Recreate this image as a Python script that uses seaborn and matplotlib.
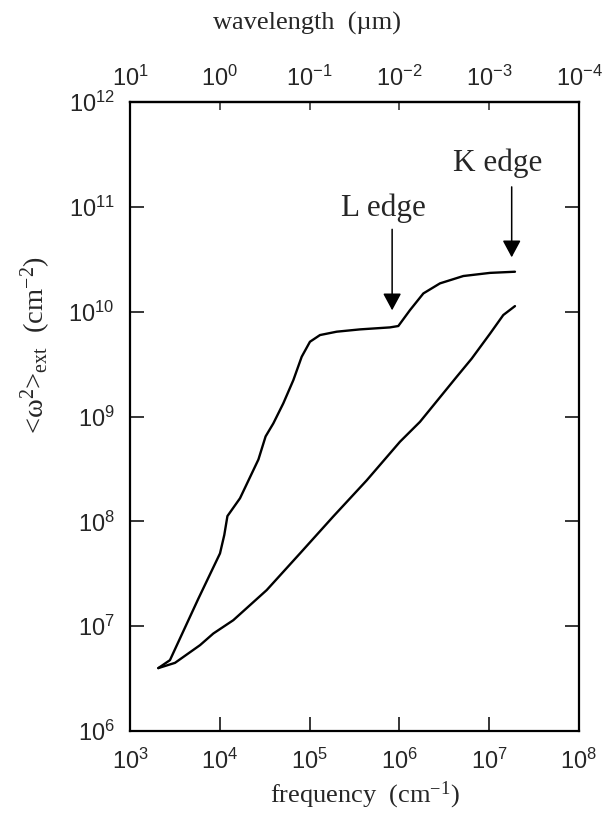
import numpy as np
import pandas as pd
import matplotlib
matplotlib.use("Agg")
import matplotlib.pyplot as plt
from matplotlib.ticker import LogLocator, NullLocator, LogFormatterSciNotation
import seaborn as sns

# Extinction-weighted mean squared frequency vs. frequency (cm^-1)
upper_freq = [2065, 2786, 5754, 1.005e4, 1.122e4, 1.216e4, 1.679e4, 2.692e4,
              3.236e4, 3.945e4, 5.093e4, 6.592e4, 8.166e4, 1.009e5, 1.306e5,
              2.004e5, 3.639e5, 7.852e5, 9.727e5, 1.312e6, 1.849e6, 2.831e6,
              5.152e6, 1.021e7, 1.936e7]
upper_val = [3.981e6, 4.742e6, 1.820e7, 4.943e7, 7.413e7, 1.122e8, 1.660e8, 3.890e8,
             6.457e8, 8.590e8, 1.334e9, 2.223e9, 3.715e9, 5.164e9, 5.984e9,
             6.442e9, 6.776e9, 7.079e9, 7.295e9, 1.035e10, 1.493e10, 1.862e10,
             2.188e10, 2.344e10, 2.404e10]

lower_freq = [2065, 3170, 6026, 8472, 1.413e4, 3.327e4, 7.816e4, 1.837e5,
              4.315e5, 1.014e6, 1.694e6, 4.345e6, 6.383e6, 1.021e7, 1.435e7, 1.936e7]
lower_val = [3.981e6, 4.467e6, 6.592e6, 8.511e6, 1.140e7, 2.208e7, 4.943e7, 1.114e8,
             2.455e8, 5.741e8, 8.892e8, 2.393e9, 3.565e9, 6.166e9, 9.290e9, 1.130e10]

edge_labels = ["L edge", "K edge"]
edge_freq = [8.3e5, 1.78e7]          # arrow positions
edge_tip = [1.03e10, 3.3e10]
edge_tail = [6.1e10, 1.55e11]
edge_text_pos = [(6.56e5, 9.75e10), (1.25e7, 2.62e11)]

sns.set_style("ticks")
plt.rcParams["font.family"] = ["Liberation Serif", "DejaVu Serif"]
plt.rcParams["mathtext.fontset"] = "custom"
plt.rcParams["mathtext.rm"] = "Liberation Serif"
plt.rcParams["mathtext.it"] = "Liberation Serif:italic"
plt.rcParams["mathtext.bf"] = "Liberation Serif:bold"

df = pd.concat([
    pd.DataFrame({"freq": upper_freq, "val": upper_val, "curve": "upper"}),
    pd.DataFrame({"freq": lower_freq, "val": lower_val, "curve": "lower"}),
])

fig = plt.figure(figsize=(6.13, 8.21), dpi=100)
ax = fig.add_axes([130 / 613, 1 - 731 / 821, 449 / 613, 629 / 821])

sns.lineplot(data=df, x="freq", y="val", hue="curve", units="curve",
             estimator=None, sort=False, palette={"upper": "black", "lower": "black"},
             linewidth=1.7, legend=False, ax=ax)
for ln in ax.lines:
    ln.set_solid_joinstyle("round")
    ln.set_solid_capstyle("round")

ax.set_xscale("log")
ax.set_yscale("log")
ax.set_xlim(1e3, 1e8)
ax.set_ylim(1e6, 1e12)
ax.set_xlabel("")
ax.set_ylabel("")

for s in ax.spines.values():
    s.set_linewidth(1.6)
    s.set_color("black")
    s.set_visible(True)

ax.xaxis.set_major_locator(LogLocator(base=10, numticks=20))
ax.yaxis.set_major_locator(LogLocator(base=10, numticks=20))
ax.xaxis.set_minor_locator(NullLocator())
ax.yaxis.set_minor_locator(NullLocator())
ax.xaxis.set_major_formatter(LogFormatterSciNotation())
ax.yaxis.set_major_formatter(LogFormatterSciNotation())
ax.tick_params(axis="both", which="major", direction="in", length=10, width=1.1,
               color="black", labelsize=17)
ax.tick_params(axis="y", right=True, left=True, pad=11)
ax.tick_params(axis="x", top=False, bottom=True, pad=13)
for lab in ax.get_xticklabels() + ax.get_yticklabels():
    lab.set_family("Liberation Sans")

# wavelength (um) axis on top: lambda = 1e4 / nu
sec = ax.secondary_xaxis("top", functions=(lambda x: 1e4 / x, lambda x: 1e4 / x))
sec.xaxis.set_major_locator(LogLocator(base=10, numticks=20))
sec.xaxis.set_minor_locator(NullLocator())
sec.xaxis.set_major_formatter(LogFormatterSciNotation())
sec.tick_params(axis="x", direction="in", length=6, width=1.1, labelsize=17, pad=8)
sec.spines["top"].set_linewidth(1.6)
for lab in sec.xaxis.get_ticklabels():
    lab.set_family("Liberation Sans")

fig.text(307 / 613, 1 - 23 / 821, "wavelength  (\u00b5m)", ha="center", va="center",
         fontsize=19)
fig.text(365 / 613, 1 - 795 / 821, "frequency  (cm$^{-1}$)", ha="center", va="center",
         fontsize=19)
fig.text(36 / 613, 1 - 345 / 821, "<\u03c9$^{2}$>$_{\\mathrm{ext}}$  (cm$^{-2}$)",
         ha="center", va="center", rotation=90, fontsize=20.5)

for name, fx, tip, tail, (tx, ty) in zip(edge_labels, edge_freq, edge_tip, edge_tail,
                                          edge_text_pos):
    ax.annotate("", xy=(fx, tip), xytext=(fx, tail),
                arrowprops=dict(arrowstyle="-|>,head_length=0.52,head_width=0.28",
                                mutation_scale=20, color="black", lw=1.1,
                                shrinkA=0, shrinkB=0))
    ax.text(tx, ty, name, ha="center", va="center", fontsize=22.5)

fig.savefig("out.png", dpi=100)
